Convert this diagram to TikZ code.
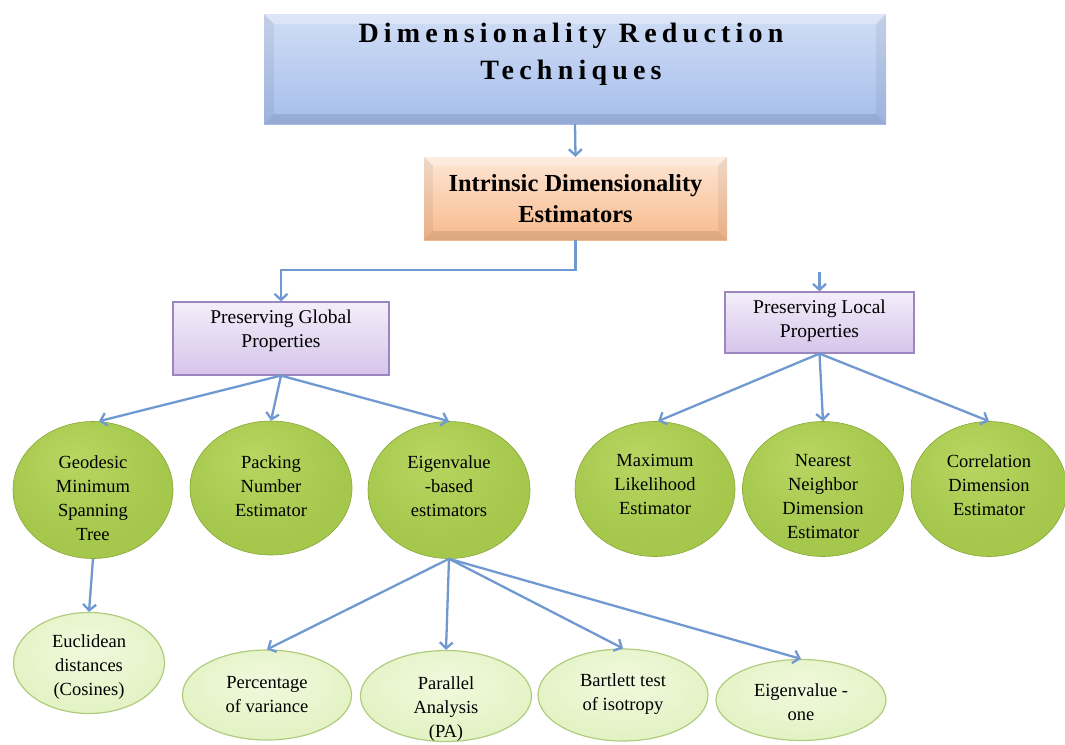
\documentclass[tikz,border=0pt]{standalone}
\usepackage{fontspec}
\setmainfont{Liberation Serif}
\newfontfamily\bodyfont{Liberation Serif}
\newfontfamily\titlefont[LetterSpace=18.6]{Liberation Serif}
\usetikzlibrary{arrows.meta,shapes.geometric}

\definecolor{linkblue}{HTML}{7099D2}
\definecolor{topA}{HTML}{D0DDF5}
\definecolor{topB}{HTML}{A6BEEC}
\definecolor{orA}{HTML}{FDE6D4}
\definecolor{orB}{HTML}{F8BA8C}
\definecolor{puA}{HTML}{F4EEFA}
\definecolor{puB}{HTML}{D6C4EA}
\definecolor{puE}{HTML}{9C86BF}
\definecolor{gA}{HTML}{B8D662}
\definecolor{gB}{HTML}{A5C74C}
\definecolor{gC}{HTML}{87A737}
\definecolor{lgA}{HTML}{F1F9DE}
\definecolor{lgB}{HTML}{E2F2C2}
\definecolor{lgE}{HTML}{B0CC7E}

% green estimator ball: light centre towards the top, darker rim
\pgfdeclareradialshading{greenball}{\pgfpoint{-6bp}{12bp}}{%
  color(0bp)=(gA); color(26bp)=(gB); color(44bp)=(gB); color(51bp)=(gC); color(60bp)=(gC)}
\pgfdeclareradialshading{lightball}{\pgfpoint{0bp}{8bp}}{%
  color(0bp)=(lgA); color(30bp)=(lgB); color(60bp)=(lgB)}

\begin{document}
\begin{tikzpicture}[x=1pt,y=-1pt,
  link/.style={draw=linkblue,line width=2.3pt,
    -{Straight Barb[length=6pt,width=13pt]}},
  titlebox/.style={rectangle,inner sep=0pt,minimum width=622pt,
    minimum height=110pt,top color=topA,bottom color=topB},
  titletext/.style={inner sep=0pt,align=center,
    font=\titlefont\bfseries\fontsize{28}{37}\selectfont},
  estbox/.style={rectangle,inner sep=0pt,minimum width=303pt,
    minimum height=83pt,top color=orA,bottom color=orB,align=center,
    font=\bodyfont\bfseries\fontsize{24.5}{31}\selectfont},
  propbox/.style={rectangle,inner sep=0pt,draw=puE,line width=1.2pt,
    top color=puA,bottom color=puB},
  proptext/.style={inner sep=0pt,align=center,
    font=\bodyfont\fontsize{19.5}{24}\selectfont},
  estim/.style={ellipse,inner sep=0pt,shading=greenball,
    draw=gC,line width=0.6pt},
  method/.style={ellipse,inner sep=0pt,shading=lightball,
    draw=lgE,line width=1.2pt},
  balltext/.style={inner sep=0pt,align=center,
    font=\bodyfont\fontsize{18.5}{24}\selectfont},
  bevellight/.style={fill=white,opacity=0.3},
  beveldark/.style={fill=black,opacity=0.06},
]
\useasboundingbox (0,0) rectangle (1065,744);

% ---- title box with bevelled rim ----
\node[titlebox] (drt) at (575,69) {};
\fill[bevellight] (drt.north west) -- (drt.north east)
  -- ([xshift=-10pt,yshift=-10pt]drt.north east)
  -- ([xshift=10pt,yshift=-10pt]drt.north west) -- cycle;
\fill[beveldark] (drt.north west) -- ([xshift=10pt,yshift=-10pt]drt.north west)
  -- ([xshift=10pt,yshift=10pt]drt.south west) -- (drt.south west) -- cycle;
\fill[beveldark] (drt.north east) -- ([xshift=-10pt,yshift=-10pt]drt.north east)
  -- ([xshift=-10pt,yshift=10pt]drt.south east) -- (drt.south east) -- cycle;
\fill[beveldark,opacity=0.1] (drt.south west) -- ([xshift=10pt,yshift=10pt]drt.south west)
  -- ([xshift=-10pt,yshift=10pt]drt.south east) -- (drt.south east) -- cycle;
\node[titletext,anchor=north] (drtlabel) at (571,23)
  {Dimensionality Reduction\\Techniques};

% ---- intrinsic dimensionality estimators ----
\node[estbox] (ide) at (575.5,198.5) {Intrinsic Dimensionality\\Estimators};
\fill[bevellight] (ide.north west) -- (ide.north east)
  -- ([xshift=-9pt,yshift=-9pt]ide.north east)
  -- ([xshift=9pt,yshift=-9pt]ide.north west) -- cycle;
\fill[beveldark] (ide.north west) -- ([xshift=9pt,yshift=-9pt]ide.north west)
  -- ([xshift=9pt,yshift=9pt]ide.south west) -- (ide.south west) -- cycle;
\fill[beveldark] (ide.north east) -- ([xshift=-9pt,yshift=-9pt]ide.north east)
  -- ([xshift=-9pt,yshift=9pt]ide.south east) -- (ide.south east) -- cycle;
\fill[beveldark,opacity=0.1] (ide.south west) -- ([xshift=9pt,yshift=9pt]ide.south west)
  -- ([xshift=-9pt,yshift=9pt]ide.south east) -- (ide.south east) -- cycle;

% ---- property groups ----
\node[propbox,minimum width=216pt,minimum height=73pt] (pg) at (281,338.5) {};
\node[proptext,anchor=north] (pgt) at (281,310) {Preserving Global\\Properties};
\node[propbox,minimum width=189pt,minimum height=61pt] (pl) at (819.5,322.5) {};
\node[proptext,anchor=north] (plt) at (819.5,300) {Preserving Local\\Properties};

% ---- estimators (green) ----
\node[estim,minimum width=160pt,minimum height=137pt] (gms) at (93,490) {};
\node[estim,minimum width=162pt,minimum height=134pt] (pne) at (271,488) {};
\node[estim,minimum width=162pt,minimum height=137pt] (ebe) at (449,490) {};
\node[estim,minimum width=160pt,minimum height=135pt] (mle) at (655,489) {};
\node[estim,minimum width=161pt,minimum height=135pt] (nnd) at (823,489) {};
\node[estim,minimum width=156pt,minimum height=135pt] (cde) at (989,489) {};
\node[balltext,anchor=north] (gmst) at (93,455) {Geodesic\\Minimum\\Spanning\\Tree};
\node[balltext,anchor=north] (pnet) at (271,455) {Packing\\Number\\Estimator};
\node[balltext,anchor=north] (ebet) at (449,455) {Eigenvalue\\-based\\estimators};
\node[balltext,anchor=north] (mlet) at (655,454) {Maximum\\Likelihood\\Estimator};
\node[balltext,anchor=north] (nndt) at (823,454) {Nearest\\Neighbor\\Dimension\\Estimator};
\node[balltext,anchor=north] (cdet) at (989,454) {Correlation\\Dimension\\Estimator};

% ---- methods (light green) ----
\node[method,minimum width=151pt,minimum height=101pt] (euc) at (89,663) {};
\node[method,minimum width=169pt,minimum height=90pt] (pov) at (267,695) {};
\node[method,minimum width=171pt,minimum height=91pt] (par) at (446,696) {};
\node[method,minimum width=170pt,minimum height=92pt] (bti) at (623,695) {};
\node[method,minimum width=170pt,minimum height=81pt] (evo) at (801,700) {};
\node[balltext,anchor=north] (euct) at (89,634) {Euclidean\\distances\\(Cosines)};
\node[balltext,anchor=north] (povt) at (267,676) {Percentage\\of variance};
\node[balltext,anchor=north] (part) at (446,676) {Parallel\\Analysis\\(PA)};
\node[balltext,anchor=north] (btit) at (623,673) {Bartlett test\\of isotropy};
\node[balltext,anchor=north] (evot) at (801,683) {Eigenvalue -\\one};

% ---- connectors ----
\coordinate (plin) at (819.5,272);
\draw[link] (drt.south) -- (ide.north);
\draw[link] (ide.south) -- ++(0,30) -| (pg.north);
\draw[link] (plin) -- (pl.north);
\draw[link] (pg.south) -- ([xshift=6pt]gms.north);
\draw[link] (pg.south) -- (pne.north);
\draw[link] (pg.south) -- (ebe.north);
\draw[link] (pl.south) -- ([xshift=3pt]mle.north);
\draw[link] (pl.south) -- (nnd.north);
\draw[link] (pl.south) -- (cde.north);
\draw[link] (gms.south) -- (euc.north);
\draw[link] (ebe.south) -- (pov.north);
\draw[link] (ebe.south) -- (par.north);
\draw[link] (ebe.south) -- (bti.north);
\draw[link] (ebe.south) -- (evo.north);
\end{tikzpicture}
\end{document}
